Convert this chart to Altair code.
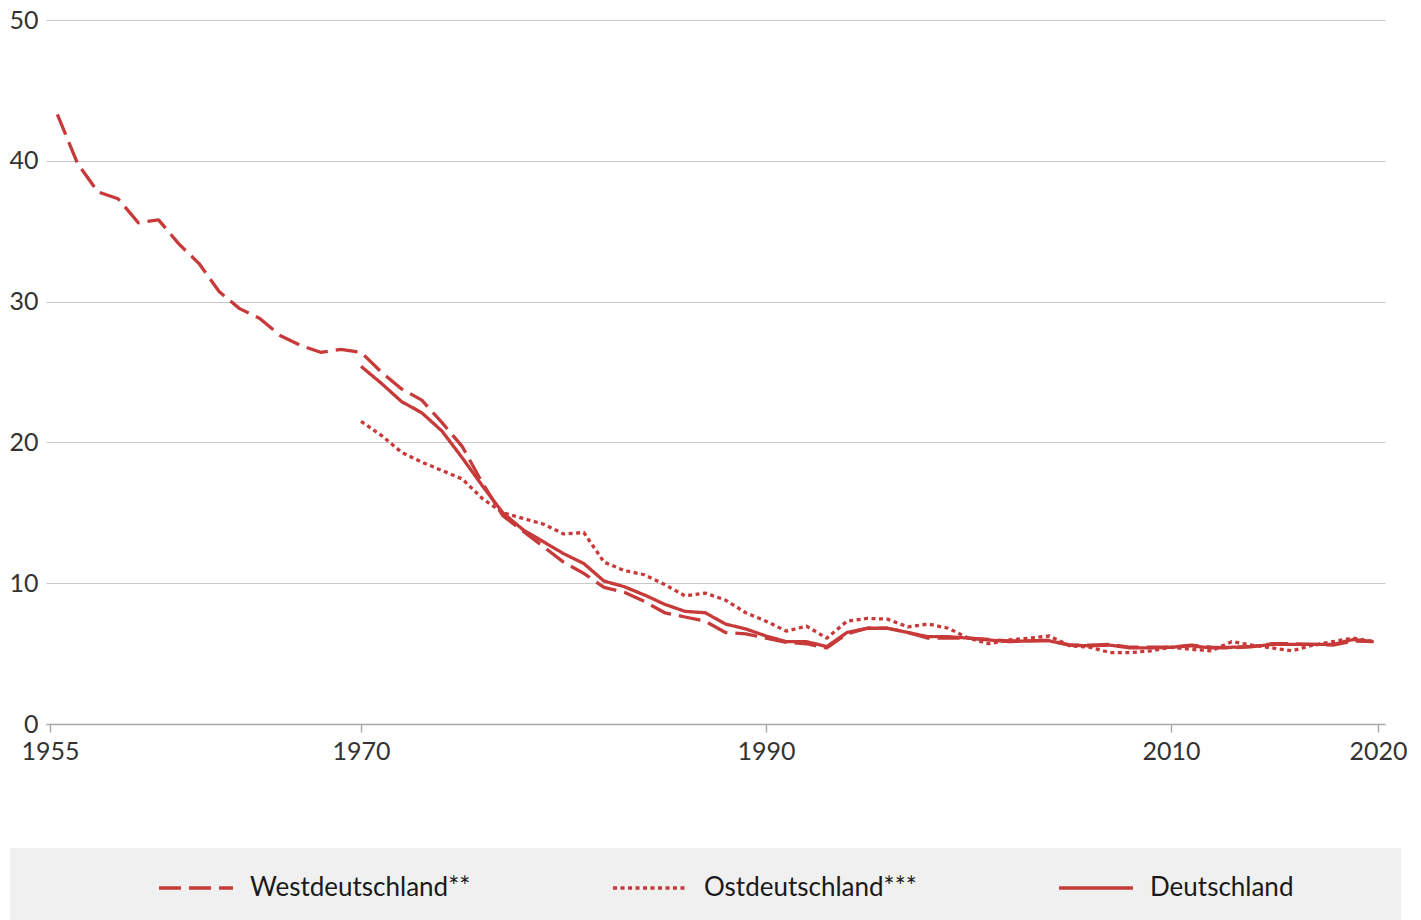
import altair as alt
import pandas as pd

# ---- data ----
years_west = list(range(1955, 2021))
west = [43.3, 39.8, 37.8, 37.3, 35.6, 35.8, 34.1, 32.7, 30.7, 29.5,
        28.8, 27.6, 26.9, 26.4, 26.6, 26.4, 25.0, 23.8, 23.0, 21.4,
        19.7, 17.1, 14.8, 13.7, 12.6, 11.5, 10.7, 9.7, 9.35, 8.7,
        7.9, 7.6, 7.3, 6.5, 6.4, 6.1, 5.8, 5.7, 5.4, 6.4,
        6.8, 6.8, 6.5, 6.1, 6.1, 6.1, 6.0, 5.9, 5.9, 5.95,
        5.6, 5.6, 5.65, 5.45, 5.45, 5.45, 5.6, 5.45, 5.4, 5.5,
        5.7, 5.7, 5.65, 5.6, 5.9, 5.85]

years_ost = list(range(1970, 2021))
ost = [21.5, 20.5, 19.3, 18.6, 18.0, 17.4, 16.0, 15.0, 14.6, 14.2,
       13.5, 13.6, 11.5, 10.9, 10.6, 9.9, 9.1, 9.3, 8.8, 7.9,
       7.3, 6.6, 6.95, 6.1, 7.3, 7.5, 7.45, 6.9, 7.1, 6.8,
       6.1, 5.7, 5.97, 6.1, 6.25, 5.55, 5.45, 5.07, 5.07, 5.2,
       5.45, 5.3, 5.2, 5.85, 5.6, 5.4, 5.2, 5.6, 5.85, 6.1, 5.85]

years_de = list(range(1970, 2021))
de = [25.4, 24.2, 22.9, 22.1, 20.8, 18.9, 16.9, 15.0, 13.8, 12.95,
      12.1, 11.4, 10.15, 9.75, 9.16, 8.5, 8.0, 7.9, 7.1, 6.75,
      6.25, 5.85, 5.85, 5.5, 6.5, 6.8, 6.8, 6.5, 6.2, 6.2,
      6.1, 5.97, 5.85, 5.9, 5.9, 5.6, 5.55, 5.6, 5.4, 5.4,
      5.45, 5.55, 5.4, 5.45, 5.5, 5.65, 5.65, 5.65, 5.65, 6.0, 5.85]

series_names = ["Westdeutschland**", "Ostdeutschland***", "Deutschland"]
y_ticks = [0, 10, 20, 30, 40, 50]
x_ticks = [1954.64, 1970, 1990, 2010, 2020.22]

rows = []
for name, yrs, vals in zip(series_names, [years_west, years_ost, years_de], [west, ost, de]):
    for y, v in zip(yrs, vals):
        rows.append({"Jahr": y, "Wert": v, "Reihe": name})
df = pd.DataFrame(rows)

RED = "#c83a3a"
FONT = "Lato"

lines = alt.Chart(df).mark_line(color=RED, strokeWidth=3.3, strokeJoin="round").encode(
    x=alt.X("Jahr:Q",
            scale=alt.Scale(domain=[1954.44, 2020.57], nice=False, zero=False),
            axis=alt.Axis(values=x_ticks, labelExpr="'' + round(datum.value)",
                          grid=False, title=None, domainColor="#aaaaaa", domainWidth=1.5,
                          tickColor="#aaaaaa", tickSize=8, tickWidth=1.5,
                          labelFontSize=25, labelColor="#333333", labelPadding=7,
                          labelFont=FONT)),
    y=alt.Y("Wert:Q",
            scale=alt.Scale(domain=[0, 50], nice=False),
            axis=alt.Axis(values=y_ticks, title=None, domain=False, ticks=False,
                          gridColor="#c8c8c8", gridWidth=1,
                          labelFontSize=25, labelColor="#333333", labelPadding=8,
                          labelFont=FONT)),
    strokeDash=alt.StrokeDash("Reihe:N",
                              scale=alt.Scale(domain=series_names,
                                              range=[[22, 8], [4, 3.5], [1, 0]]),
                              legend=alt.Legend(title=None, orient="none",
                                                direction="horizontal",
                                                legendX=111, legendY=829,
                                                symbolType="stroke",
                                                symbolSize=5476,
                                                symbolStrokeWidth=3.3,
                                                symbolStrokeColor=RED,
                                                labelFontSize=26,
                                                labelColor="#1a1a1a",
                                                labelFont=FONT,
                                                labelOffset=15,
                                                columnPadding=135,
                                                labelLimit=400,
                                                padding=0)),
    detail="Reihe:N",
)

band = alt.Chart(pd.DataFrame({"a": [0]})).mark_rect(color="#f0f0f0").encode(
    x=alt.value(-36), x2=alt.value(1355), y=alt.value(828), y2=alt.value(905)
)

chart = alt.layer(band, lines).properties(
    width=1339, height=704, padding=0
).configure(font=FONT, background="white").configure_view(strokeWidth=0, stroke=None)

chart.save("out.html", embed_options={"renderer": "svg", "actions": False})
